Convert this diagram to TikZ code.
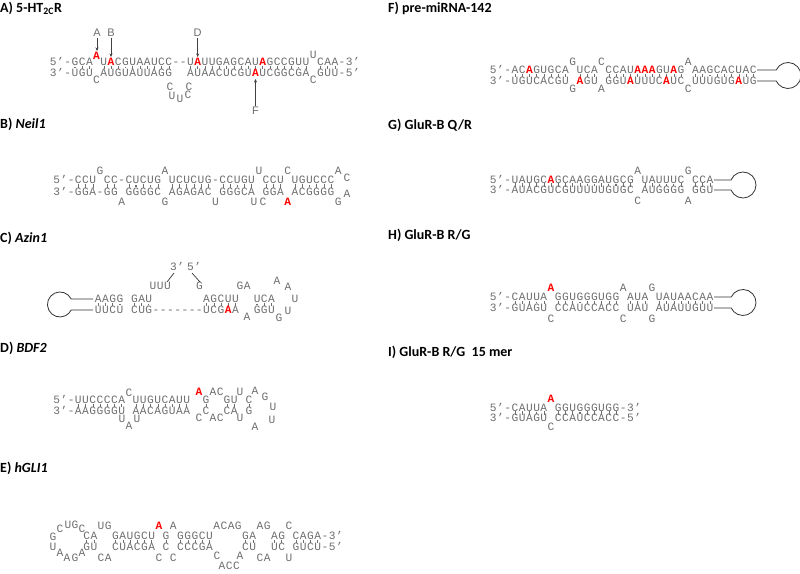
\documentclass[tikz,border=0pt]{standalone}
\usepackage{fontspec}
\setmainfont{Carlito}
\newfontfamily\seqfont{Liberation Mono}
\newfontfamily\lblfont{Liberation Sans}
\usetikzlibrary{arrows.meta}
\definecolor{sg}{HTML}{6E6E6E}
\newdimen\cw \cw=7.22pt
\def\seqrow#1{\seqi#1\relax}
\def\seqi#1{\ifx\relax#1\else\seqc{#1}\expandafter\seqi\fi}
\def\seqc#1{\makebox[\cw]{\ifx#1.\else\ifx#1R\textcolor{red}{\bfseries A}\else#1\fi\fi}}
\def\pairrow#1{\pairi#1\relax}
\def\pairi#1{\ifx\relax#1\else\pcx{#1}\expandafter\pairi\fi}
\def\pcx#1{\makebox[\cw]{\ifx#1|\rule[-1.6pt]{0.5pt}{3.2pt}\else\ifx#1:\rule[-0.65pt]{1.3pt}{1.3pt}\fi\fi}}
\tikzset{
 sq/.style={anchor=base west,inner sep=0,outer sep=0,text=sg,font=\seqfont\fontsize{11.2}{11.2}\selectfont},
 ttl/.style={anchor=west,inner sep=0,font=\bfseries\fontsize{14}{14}\selectfont},
 lbl/.style={inner sep=1pt,font=\lblfont\fontsize{11}{11}\selectfont,text=sg},
 arr/.style={-{Stealth[length=3.5pt,width=3pt]},line width=0.6pt,black!75},
 hp/.style={line width=0.8pt,black!80},
 stem/.style={line width=0.7pt,black!80}
}
\newcommand\sq[3]{\node[sq] at ({#1-3.61},{-(#2)-3.7}) {\seqrow{#3}};}
\newcommand\pr[3]{\node[sq] at ({#1-3.61},{-(#2)}) {\pairrow{#3}};}
\begin{document}
\begin{tikzpicture}[x=1pt,y=1pt]
\useasboundingbox (0,0) rectangle (800,-573);
\fill[white] (0,0) rectangle (800,-573);
% titles
\node[ttl] (tA) at (0,-8) {A) 5-HT\textsubscript{2C}R};
\node[ttl] (tB) at (0,-124) {B) \textit{Neil1}};
\node[ttl] (tC) at (0,-238) {C) \textit{Azin1}};
\node[ttl] (tD) at (0,-348) {D) \textit{BDF2}};
\node[ttl] (tE) at (0,-468) {E) \textit{hGLI1}};
\node[ttl] (tF) at (388,-8) {F) pre-miRNA-142};
\node[ttl] (tG) at (388,-125) {G) GluR-B Q/R};
\node[ttl] (tH) at (388,-235) {H) GluR-B R/G};
\node[ttl] (tI) at (388,-352) {I) GluR-B R/G\ \ 15 mer};
% ---- A
\sq{96.6}{56}{R}
\sq{313.2}{55}{U}
\sq{53.3}{62}{5’-GCA.URCGUAAUCC--URUUGAGCAURGCCGUU.CAA-3’}
\pr{53.3}{67.5}{...:||.|||:||||||..|||||||||||||||:|.|||}
\sq{53.3}{73}{3’-UGU.AUGUAUUAGG..AUAACUCGURUCGGCGA.GUU-5’}
\sq{96.6}{80}{C}
\sq{313.2}{80}{C}
\sq{170}{87}{C}\sq{189}{87}{C}\sq{172}{96}{U}\sq{180}{99}{U}\sq{188}{95}{C}
\node[lbl] (la) at (97,-33) {A};
\node[lbl] (lb) at (111,-33) {B};
\node[lbl] (ld) at (197.7,-33) {D};
\node[lbl] (lf) at (255.5,-111) {F};
\coordinate (pa) at (97,-51);
\coordinate (pb) at (111,-57);
\coordinate (pd) at (197.7,-57);
\coordinate (pf) at (255.5,-79);
\draw[arr] (la) -- (pa);
\draw[arr] (lb) -- (pb);
\draw[arr] (ld) -- (pd);
\draw[arr] (lf) -- (pf);
% ---- B
\sq{56.7}{180}{5’-CCU.CC-CUCUG.UCUCUG-CCUGU.CCU.UGUCCC}
\pr{56.7}{186}{...|||.||.|:|:|.||||||.||:||.|||.||:|||}
\sq{56.7}{192}{3’-GGA-GG.GGGGC.AGAGAC.GGGCA.GGA.ACGGGG}
\sq{100}{171}{G}\sq{165}{171}{A}\sq{258.9}{171}{U}\sq{287.7}{171}{C}\sq{338.3}{171}{A}\sq{347}{178}{C}
\sq{121.7}{202}{A}\sq{165}{202}{G}\sq{215.5}{202}{U}\sq{254}{202}{U}\sq{263}{202}{C}\sq{287.7}{202}{R}\sq{347}{194}{A}\sq{338.3}{202}{G}
% ---- C
\sq{98.3}{299}{AAGG.GAU.......AGCUU..UCA}
\pr{98.3}{304.5}{|||:.||:.......|||||..:||}
\sq{98.3}{310}{UUCU.CUG-------UCGRA..GGU}
\sq{153}{286}{UUU}\sq{199.4}{286}{G}\sq{240}{286}{GA}
\sq{173.4}{267}{3’}\sq{190.4}{267}{5’}
\coordinate (c3a) at (174,-273); \coordinate (c3b) at (167,-282);
\coordinate (c5a) at (192,-273); \coordinate (c5b) at (200,-282);
\draw[stem] (c3a) -- (c3b);
\draw[stem] (c5a) -- (c5b);
\sq{277}{281}{A}\sq{288}{287}{A}\sq{295}{299}{U}\sq{288}{311}{U}\sq{279}{318}{G}\sq{247}{317}{A}
\draw[hp] (93,-299) -- (71.2,-299) arc[start angle=26,end angle=334,radius=12.5] -- (93,-310);
% ---- D
\sq{56.7}{400}{5’-UUCCCCA.UUGUCAUU}
\pr{56.7}{405.5}{...|||||||.||||||||}
\sq{56.7}{411}{3’-AAGGGGU.AACAGUAA}
\sq{206}{400}{G}\sq{227}{400}{GU}\sq{249}{400}{C}
\pr{206}{405.5}{|}\pr{227}{405.5}{||}\pr{249}{405.5}{|}
\sq{206}{411}{C}\sq{227}{411}{CA}\sq{249}{411}{G}
\sq{128.9}{393}{C}\sq{199}{392}{R}\sq{213}{392}{AC}\sq{240}{392}{U}\sq{255}{391}{A}\sq{265}{397}{G}\sq{273}{407}{U}
\sq{122}{419}{U}\sq{129}{426}{A}\sq{137}{419}{U}\sq{199}{418}{C}\sq{213}{418}{AC}\sq{240}{418}{U}\sq{255}{427}{A}\sq{272}{420}{U}
% ---- E
\sq{86.7}{536}{CA..GAUGCU.G.GGGCU....GA..AG.CAGA-3’}
\pr{86.7}{541.5}{||..||||||.|.|||||....||..||.||||}
\sq{86.7}{547}{GU..CUACGA.C.CCCGA....CU..UC.GUCU-5’}
\sq{101.1}{526}{UG}\sq{158.9}{526}{R}\sq{173.3}{526}{A}\sq{216.7}{526}{ACAG}\sq{260}{526}{AG}\sq{288.9}{526}{C}
\sq{101.1}{558}{CA}\sq{158.9}{558}{C}\sq{173.3}{558}{C}\sq{217}{556}{C}\sq{222}{566}{ACC}\sq{240}{556}{A}\sq{260}{558}{CA}\sq{288.9}{558}{U}
\sq{60}{529}{C}\sq{68}{525}{U}\sq{75}{525}{G}\sq{82}{529}{C}\sq{53}{537}{G}\sq{53}{547}{U}\sq{60}{553}{A}\sq{67}{558}{A}\sq{75}{558}{G}\sq{82}{553}{A}
% ---- F
\sq{493.3}{70}{5’-ACRGUGCA.UCA.CCAURRRGURG.AAGCACUAC}
\pr{493.3}{75.5}{...||||||||.|||.|||||||||||.||:||||||}
\sq{493.3}{81}{3’-UGUCACGU.RGU.GGURUUUCRUC.UUUGUGRUG}
\sq{572.7}{62}{G}\sq{601.6}{62}{C}\sq{688.2}{62}{A}
\sq{572.7}{89}{G}\sq{601.6}{89}{A}\sq{688.2}{89}{C}
\draw[hp] (757,-70) -- (776.2,-70) arc[start angle=155,end angle=-155,radius=13] -- (757,-81);
% ---- G
\sq{493.3}{180}{5’-UAUGCRGCAAGGAUGCG.UAUUUC.CCA}
\pr{493.3}{185}{...||||||||||::|::||.||:::|.|||}
\sq{493.3}{190}{3’-AUACGUCGUUUUUGUGC.AUGGGG.GGU}
\sq{637.7}{171}{A}\sq{688.2}{171}{G}
\sq{637.7}{201}{C}\sq{688.2}{201}{A}
\draw[hp] (714,-180) -- (731,-180) arc[start angle=157.4,end angle=-157.4,radius=13] -- (714,-190);
% ---- H
\sq{493.3}{297}{5’-CAUUA.GGUGGGUGG.AUA.UAUAACAA}
\pr{493.3}{302.5}{...|||:|.|||:|||||.|||.||||||||}
\sq{493.3}{308}{3’-GUAGU.CCAUCCACC.UAU.AUAUUGUU}
\sq{551.1}{288}{R}\sq{623.3}{288}{A}\sq{652.1}{288}{G}
\sq{551.1}{319}{C}\sq{623.3}{319}{C}\sq{652.1}{319}{G}
\draw[hp] (714,-297) -- (731.2,-297) arc[start angle=155,end angle=-155,radius=13] -- (714,-308);
% ---- I
\sq{551.1}{399}{R}
\sq{493.3}{408}{5’-CAUUA.GGUGGGUGG-3’}
\pr{493.3}{413}{...|||:|.|||:|||||}
\sq{493.3}{418}{3’-GUAGU.CCAUCCACC-5’}
\sq{551.1}{427}{C}
\end{tikzpicture}
\end{document}
